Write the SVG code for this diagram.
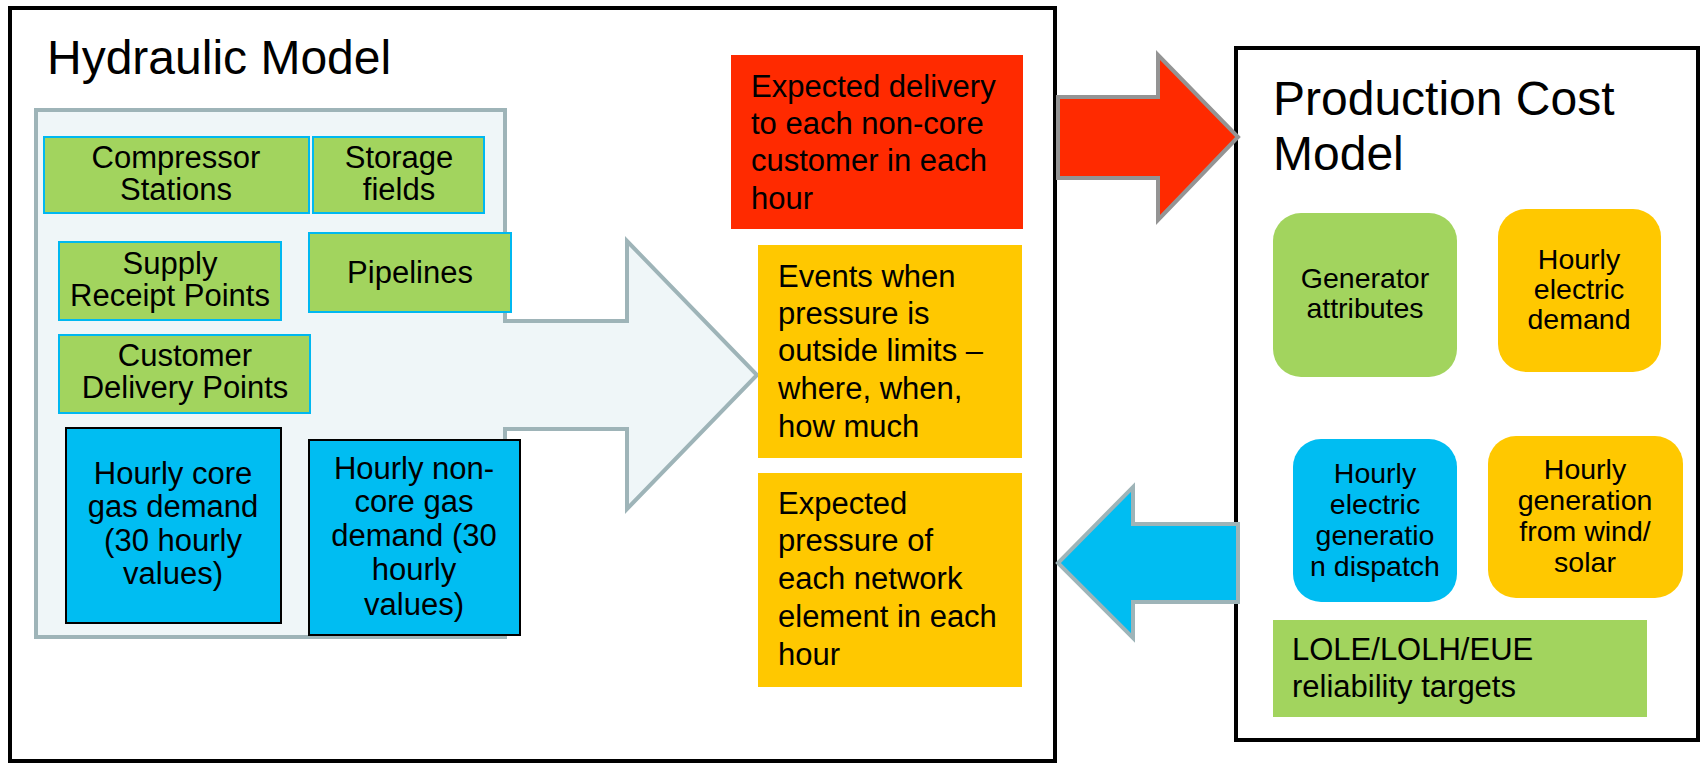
<svg xmlns="http://www.w3.org/2000/svg" width="1702" height="764" viewBox="0 0 1702 764">
<style>
text{font-family:"Liberation Sans",Arial,sans-serif;fill:#000}
.t31{font-size:31px}
.t29{font-size:28.5px}
.t48{font-size:48px}
.c{text-anchor:middle}
.frame{fill:#fff;stroke:#000;stroke-width:4}
.grn{fill:#a2d45e;stroke:#00b8f0;stroke-width:2}
.blu{fill:#00bdf2;stroke:#000;stroke-width:2}
.org{fill:#ffc800}
.red{fill:#ff2a00}
</style>
<rect width="1702" height="764" fill="#fff"/>
<g id="hydraulic-model">
<rect class="frame" x="10" y="8" width="1045" height="753"/>
<text class="t48" x="47" y="74">Hydraulic Model</text>
</g>
<g id="inputs-panel">
<path d="M36,110 L505,110 L505,321 L627,321 L627,241 L757,375 L627,509 L627,429 L505,429 L505,637 L36,637 Z" fill="#eff6f8" stroke="#9eb4b8" stroke-width="4" stroke-linejoin="miter"/>
</g>
<g id="compressor-stations">
<rect class="grn" x="44" y="137" width="265" height="76"/>
<text class="t31 c" x="176" y="168">Compressor</text>
<text class="t31 c" x="176" y="200">Stations</text>
</g>
<g id="storage-fields">
<rect class="grn" x="313" y="137" width="171" height="76"/>
<text class="t31 c" x="399" y="168">Storage</text>
<text class="t31 c" x="399" y="200">fields</text>
</g>
<g id="supply-receipt-points">
<rect class="grn" x="59" y="242" width="222" height="78"/>
<text class="t31 c" x="170" y="274">Supply</text>
<text class="t31 c" x="170" y="306">Receipt Points</text>
</g>
<g id="pipelines">
<rect class="grn" x="309" y="233" width="202" height="79"/>
<text class="t31 c" x="410" y="283">Pipelines</text>
</g>
<g id="customer-delivery-points">
<rect class="grn" x="59" y="335" width="251" height="78"/>
<text class="t31 c" x="185" y="366">Customer</text>
<text class="t31 c" x="185" y="398">Delivery Points</text>
</g>
<g id="hourly-core-gas-demand">
<rect class="blu" x="66" y="428" width="215" height="195"/>
<text class="t31 c" x="173" y="484">Hourly core</text>
<text class="t31 c" x="173" y="517">gas demand</text>
<text class="t31 c" x="173" y="551">(30 hourly</text>
<text class="t31 c" x="173" y="584">values)</text>
</g>
<g id="hourly-noncore-gas-demand">
<rect class="blu" x="309" y="440" width="211" height="195"/>
<text class="t31 c" x="414" y="479">Hourly non-</text>
<text class="t31 c" x="414" y="512">core gas</text>
<text class="t31 c" x="414" y="546">demand (30</text>
<text class="t31 c" x="414" y="580">hourly</text>
<text class="t31 c" x="414" y="615">values)</text>
</g>
<g id="expected-delivery">
<rect class="red" x="731" y="55" width="292" height="174"/>
<text class="t31" x="751" y="97">Expected delivery</text>
<text class="t31" x="751" y="134">to each non-core</text>
<text class="t31" x="751" y="171">customer in each</text>
<text class="t31" x="751" y="209">hour</text>
</g>
<g id="pressure-events">
<rect class="org" x="758" y="245" width="264" height="213"/>
<text class="t31" x="778" y="287">Events when</text>
<text class="t31" x="778" y="324">pressure is</text>
<text class="t31" x="778" y="361">outside limits –</text>
<text class="t31" x="778" y="399">where, when,</text>
<text class="t31" x="778" y="437">how much</text>
</g>
<g id="expected-pressure">
<rect class="org" x="758" y="473" width="264" height="214"/>
<text class="t31" x="778" y="514">Expected</text>
<text class="t31" x="778" y="551">pressure of</text>
<text class="t31" x="778" y="589">each network</text>
<text class="t31" x="778" y="627">element in each</text>
<text class="t31" x="778" y="665">hour</text>
</g>
<g id="production-cost-model">
<rect class="frame" x="1236" y="48" width="462" height="692"/>
<text class="t48" x="1273" y="115">Production Cost</text>
<text class="t48" x="1273" y="170">Model</text>
</g>
<g id="generator-attributes">
<rect x="1273" y="213" width="184" height="164" rx="28" fill="#a2d45e"/>
<text class="t29 c" x="1365" y="288">Generator</text>
<text class="t29 c" x="1365" y="318">attributes</text>
</g>
<g id="hourly-electric-demand">
<rect x="1498" y="209" width="163" height="163" rx="28" fill="#ffc800"/>
<text class="t29 c" x="1579" y="269">Hourly</text>
<text class="t29 c" x="1579" y="299">electric</text>
<text class="t29 c" x="1579" y="329">demand</text>
</g>
<g id="electric-generation-dispatch">
<rect x="1293" y="439" width="164" height="163" rx="28" fill="#00bdf2"/>
<text class="t29 c" x="1375" y="483">Hourly</text>
<text class="t29 c" x="1375" y="514">electric</text>
<text class="t29 c" x="1375" y="545">generatio</text>
<text class="t29 c" x="1375" y="576">n dispatch</text>
</g>
<g id="generation-wind-solar">
<rect x="1488" y="436" width="195" height="162" rx="28" fill="#ffc800"/>
<text class="t29 c" x="1585" y="479">Hourly</text>
<text class="t29 c" x="1585" y="510">generation</text>
<text class="t29 c" x="1585" y="541">from wind/</text>
<text class="t29 c" x="1585" y="572">solar</text>
</g>
<g id="reliability-targets">
<rect x="1273" y="620" width="374" height="97" fill="#a2d45e"/>
<text class="t31" x="1292" y="660">LOLE/LOLH/EUE</text>
<text class="t31" x="1292" y="697">reliability targets</text>
</g>
<g id="connectors">
<path d="M1058,97 L1158,97 L1158,55 L1238,137 L1158,220 L1158,178 L1058,178 Z" fill="#ff2a00" stroke="#949494" stroke-width="4"/>
<path d="M1238,524 L1133,524 L1133,487 L1058,563 L1133,638 L1133,602 L1238,602 Z" fill="#00bdf2" stroke="#9eb4b8" stroke-width="4"/>
</g>
</svg>
